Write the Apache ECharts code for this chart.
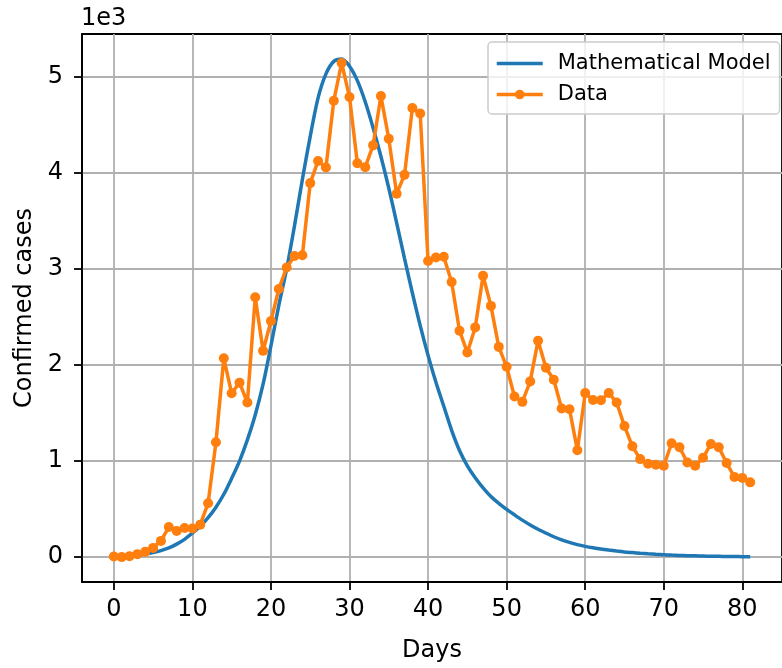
<!DOCTYPE html>
<html>
<head>
<meta charset="utf-8">
<script src="https://cdn.jsdelivr.net/npm/echarts@6/dist/echarts.min.js"></script>
<style>
  html, body { margin: 0; padding: 0; background: #fff; }
  #chart { width: 782px; height: 668px; }
</style>
</head>
<body>
<div id="chart"></div>
<script>
// days 0..81
const days = [0, 1, 2, 3, 4, 5, 6, 7, 8, 9, 10, 11, 12, 13, 14, 15, 16, 17, 18, 19,
  20, 21, 22, 23, 24, 25, 26, 27, 28, 29, 30, 31, 32, 33, 34, 35, 36, 37, 38, 39,
  40, 41, 42, 43, 44, 45, 46, 47, 48, 49, 50, 51, 52, 53, 54, 55, 56, 57, 58, 59,
  60, 61, 62, 63, 64, 65, 66, 67, 68, 69, 70, 71, 72, 73, 74, 75, 76, 77, 78, 79,
  80, 81];

// reported confirmed cases (orange)
const dataCases = [7, 0, 10, 31, 55, 96, 169, 313, 272, 303,
  297, 338, 561, 1196, 2070, 1705, 1816, 1609, 2705, 2147,
  2457, 2791, 3015, 3135, 3142, 3893, 4124, 4055, 4751, 5144,
  4789, 4100, 4059, 4286, 4799, 4355, 3783, 3979, 4675, 4617,
  3082, 3118, 3127, 2863, 2357, 2129, 2391, 2928, 2615, 2188,
  1981, 1671, 1616, 1829, 2253, 1971, 1847, 1547, 1540, 1113,
  1707, 1635, 1633, 1709, 1609, 1364, 1154, 1020, 972, 961,
  951, 1185, 1144, 985, 951, 1034, 1178, 1144, 979, 834,
  824, 778];

// mathematical model curve (blue)
const modelCases = [8, 11, 16, 23, 33, 47, 67, 95, 135, 185,
  250, 320, 410, 520, 654, 820, 1000, 1220, 1480, 1800,
  2200, 2620, 3000, 3450, 3930, 4380, 4780, 5030, 5160, 5185,
  5110, 4960, 4740, 4470, 4170, 3840, 3480, 3110, 2750, 2410,
  2100, 1820, 1570, 1320, 1110, 950, 825, 720, 630, 560,
  497, 440, 385, 335, 290, 250, 212, 180, 153, 130,
  112, 97, 84, 73, 63, 54, 47, 40, 34, 29,
  25, 21, 18, 15, 13, 11, 9, 8, 7, 6,
  5, 4];

const xTicks = [0, 10, 20, 30, 40, 50, 60, 70, 80];
const yTicks = [0, 1000, 2000, 3000, 4000, 5000];

const font = "DejaVu Sans";
const chart = echarts.init(document.getElementById("chart"));

const axisCommon = {
  axisLine: { show: true, onZero: false, lineStyle: { color: "#000", width: 1.8 } },
  axisTick: { show: true, inside: false, length: 8, lineStyle: { color: "#000", width: 1.8 } },
  splitLine: { show: true, lineStyle: { color: "#b0b0b0", width: 1.8 } },
  nameTextStyle: { fontFamily: font, fontSize: 24, color: "#000" }
};

chart.setOption({
  animation: false,
  title: {
    text: "1e3",
    left: 81,
    top: 7,
    padding: 0,
    textStyle: { fontFamily: font, fontSize: 24, fontWeight: "normal", color: "#000" }
  },
  grid: {
    left: 82,
    right: -6,
    top: 34,
    bottom: 84,
    show: true,
    borderWidth: 1.8,
    borderColor: "#000"
  },
  legend: {
    orient: "vertical",
    left: 488,
    top: 42,
    padding: [11, 9, 9, 7],
    itemWidth: 46,
    itemHeight: 12,
    itemGap: 10,
    backgroundColor: "rgba(255,255,255,0.8)",
    borderColor: "#cccccc",
    borderWidth: 1.5,
    borderRadius: 4,
    lineStyle: { width: 3.5 },
    textStyle: { fontFamily: font, fontSize: 21, color: "#000", padding: [0, 0, 0, 10] },
    data: [
      { name: "Mathematical Model", itemStyle: { opacity: 0 } },
      { name: "Data" }
    ]
  },
  xAxis: Object.assign({}, axisCommon, {
    type: "value",
    min: -4.05,
    max: 85.05,
    name: "Days",
    nameLocation: "middle",
    nameGap: 57,
    axisTick: Object.assign({}, axisCommon.axisTick, { customValues: xTicks }),
    axisLabel: {
      customValues: xTicks,
      margin: 16,
      fontFamily: font,
      fontSize: 24,
      color: "#000"
    }
  }),
  yAxis: Object.assign({}, axisCommon, {
    type: "value",
    min: -259,
    max: 5445,
    name: "Confirmed cases",
    nameLocation: "middle",
    nameGap: 32,
    axisTick: Object.assign({}, axisCommon.axisTick, { customValues: yTicks }),
    axisLabel: {
      customValues: yTicks,
      margin: 19,
      fontFamily: font,
      fontSize: 24,
      color: "#000",
      formatter: (v) => String(v / 1000)
    }
  }),
  series: [
    {
      name: "Mathematical Model",
      type: "line",
      data: days.map((d, i) => [d, modelCases[i]]),
      showSymbol: false,
      symbol: "none",
      smooth: 0.3,
      lineStyle: { color: "#1f77b4", width: 3.5 },
      itemStyle: { color: "#1f77b4" },
      z: 2
    },
    {
      name: "Data",
      type: "line",
      data: days.map((d, i) => [d, dataCases[i]]),
      symbol: "circle",
      symbolSize: 10,
      lineStyle: { color: "#ff7f0e", width: 3.5 },
      itemStyle: { color: "#ff7f0e" },
      z: 3
    }
  ]
});
</script>
</body>
</html>
